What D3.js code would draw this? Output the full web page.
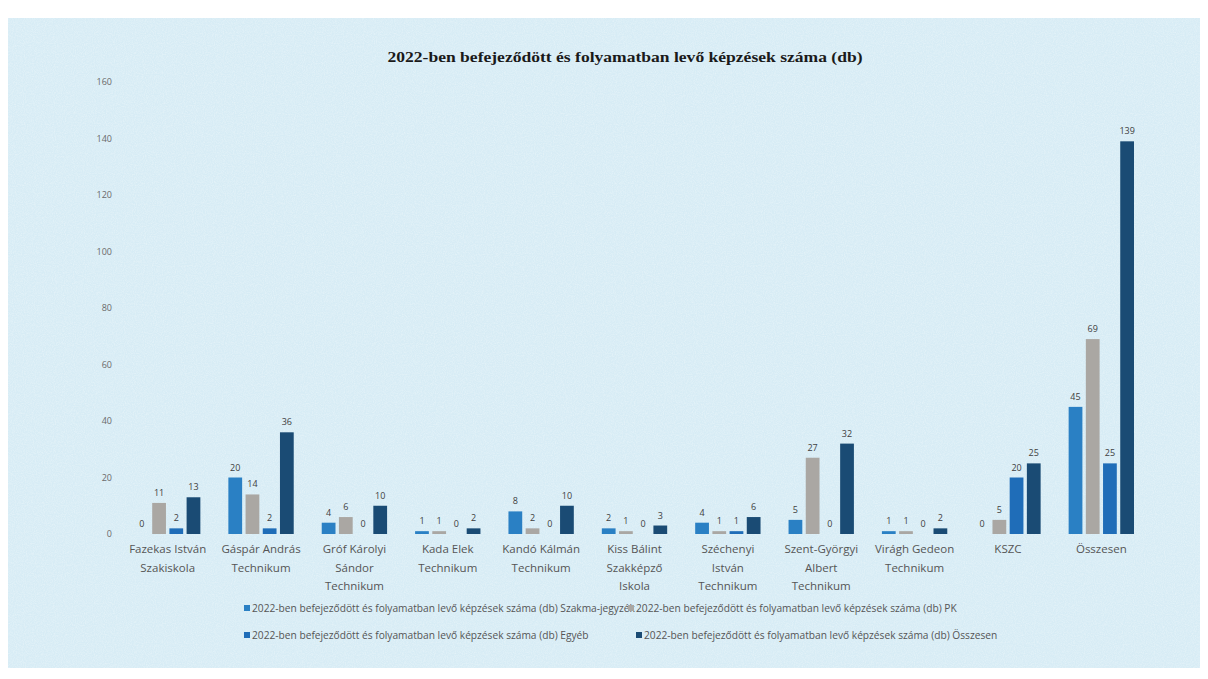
<!DOCTYPE html>
<html>
<head>
<meta charset="utf-8">
<script src="https://cdn.jsdelivr.net/npm/d3@7"></script>
<style>
  html, body { margin: 0; padding: 0; background: #ffffff; }
  svg { display: block; }
</style>
</head>
<body>
<div id="chart"></div>
<script>
const title = "2022-ben befejeződött és folyamatban levő képzések száma (db)";

const categories = [
  ["Fazekas István", "Szakiskola"],
  ["Gáspár András", "Technikum"],
  ["Gróf Károlyi", "Sándor", "Technikum"],
  ["Kada Elek", "Technikum"],
  ["Kandó Kálmán", "Technikum"],
  ["Kiss Bálint", "Szakképző", "Iskola"],
  ["Széchenyi", "István", "Technikum"],
  ["Szent-Györgyi", "Albert", "Technikum"],
  ["Virágh Gedeon", "Technikum"],
  ["KSZC"],
  ["Összesen"]
];

const seriesNames = [
  "2022-ben befejeződött és folyamatban levő képzések száma (db) Szakma-jegyzék",
  "2022-ben befejeződött és folyamatban levő képzések száma (db) PK",
  "2022-ben befejeződött és folyamatban levő képzések száma (db) Egyéb",
  "2022-ben befejeződött és folyamatban levő képzések száma (db) Összesen"
];

const szakmaValues = [0, 20, 4, 1, 8, 2, 4, 5, 1, 0, 45];
const pkValues = [11, 14, 6, 1, 2, 1, 1, 27, 1, 5, 69];
const egyebValues = [2, 2, 0, 0, 0, 0, 1, 0, 0, 20, 25];
const osszesenValues = [13, 36, 10, 2, 10, 3, 6, 32, 2, 25, 139];

const yTicks = [0, 20, 40, 60, 80, 100, 120, 140, 160];
const seriesColors = ["#2a80c4", "#aaa7a3", "#1f6db8", "#1a4b74"];

const width = 1208;
const height = 679;

const svg = d3.select("#chart")
  .append("svg")
  .attr("width", width)
  .attr("height", height);

// scanned-paper texture for the chart panel
const defs = svg.append("defs");
const noise = defs.append("filter").attr("id", "scan").attr("x", 0).attr("y", 0)
  .attr("width", "100%").attr("height", "100%");
noise.append("feTurbulence").attr("type", "fractalNoise")
  .attr("baseFrequency", "0.9").attr("numOctaves", 2).attr("seed", 4).attr("result", "n");
noise.append("feColorMatrix").attr("in", "n").attr("type", "matrix")
  .attr("values", "0 0 0 0 1  0 0 0 0 1  0 0 0 0 1  0 0 0 -1.6 1.05");

svg.append("rect").attr("width", width).attr("height", height).attr("fill", "#ffffff");
svg.append("rect")
  .attr("x", 8).attr("y", 18).attr("width", 1192).attr("height", 650)
  .attr("fill", "#d7ecf5");
svg.append("rect")
  .attr("x", 8).attr("y", 18).attr("width", 1192).attr("height", 650)
  .attr("filter", "url(#scan)").attr("opacity", 0.35);

const x0 = d3.scaleBand()
  .domain(d3.range(categories.length))
  .range([121, 1148])
  .paddingInner(0.3)
  .paddingOuter(0.15);

const x1 = d3.scaleBand()
  .domain(d3.range(seriesNames.length))
  .range([0, x0.bandwidth()])
  .paddingInner(0.2);

const y = d3.scaleLinear().domain([0, 160]).range([534, 82]);

// title
svg.append("text")
  .attr("x", 625).attr("y", 62)
  .attr("text-anchor", "middle")
  .attr("font-family", "'Liberation Serif', 'Times New Roman', serif")
  .attr("font-weight", "bold")
  .attr("font-size", 14)
  .attr("fill", "#1a1a1a")
  .attr("textLength", 475)
  .attr("lengthAdjust", "spacingAndGlyphs")
  .text(title);

// y axis labels only
const yAxis = svg.append("g")
  .attr("transform", "translate(112,0)")
  .call(d3.axisLeft(y).tickValues(yTicks).tickSize(0).tickPadding(0));
yAxis.select(".domain").remove();
yAxis.selectAll("text")
  .attr("font-family", "'Open Sans', sans-serif")
  .attr("font-size", 9)
  .attr("fill", "#6a6a6a");

const table = szakmaValues.map((v, i) => [v, pkValues[i], egyebValues[i], osszesenValues[i]]);

const groups = svg.append("g")
  .selectAll("g")
  .data(table)
  .join("g")
  .attr("transform", (d, i) => `translate(${x0(i)},0)`);

groups.selectAll("rect")
  .data((d) => d.map((v, s) => ({ v, s })))
  .join("rect")
  .attr("x", (d) => x1(d.s))
  .attr("y", (d) => y(d.v))
  .attr("width", x1.bandwidth())
  .attr("height", (d) => y(0) - y(d.v))
  .attr("fill", (d) => seriesColors[d.s]);

groups.selectAll("text")
  .data((d) => d.map((v, s) => ({ v, s })))
  .join("text")
  .attr("x", (d) => x1(d.s) + x1.bandwidth() / 2)
  .attr("y", (d) => y(d.v) - 7)
  .attr("text-anchor", "middle")
  .attr("font-family", "'Open Sans', sans-serif")
  .attr("font-size", 9)
  .attr("fill", "#404040")
  .text((d) => d.v);

// category labels
const catLabels = svg.append("g")
  .selectAll("text")
  .data(categories)
  .join("text")
  .attr("x", (d, i) => x0(i) + x0.bandwidth() / 2)
  .attr("y", 553)
  .attr("text-anchor", "middle")
  .attr("font-family", "'Open Sans', sans-serif")
  .attr("font-size", 11.5)
  .attr("fill", "#555555");

catLabels.selectAll("tspan")
  .data((d) => d)
  .join("tspan")
  .attr("x", function () { return this.parentNode.getAttribute("x"); })
  .attr("dy", (d, j) => (j === 0 ? 0 : 18.5))
  .text((d) => d);

// legend
const legendPos = [[244, 612], [628, 612], [244, 639], [636, 639]];
const legend = svg.append("g")
  .selectAll("g")
  .data(seriesNames)
  .join("g")
  .attr("transform", (d, i) => `translate(${legendPos[i][0]},${legendPos[i][1]})`);

legend.append("rect")
  .attr("x", 0).attr("y", -7)
  .attr("width", 6).attr("height", 6)
  .attr("fill", (d, i) => seriesColors[i]);

legend.append("text")
  .attr("x", 8).attr("y", 0)
  .attr("font-family", "'Open Sans', sans-serif")
  .attr("font-size", 10.2)
  .attr("fill", "#555555")
  .text((d) => d);
</script>
</body>
</html>
